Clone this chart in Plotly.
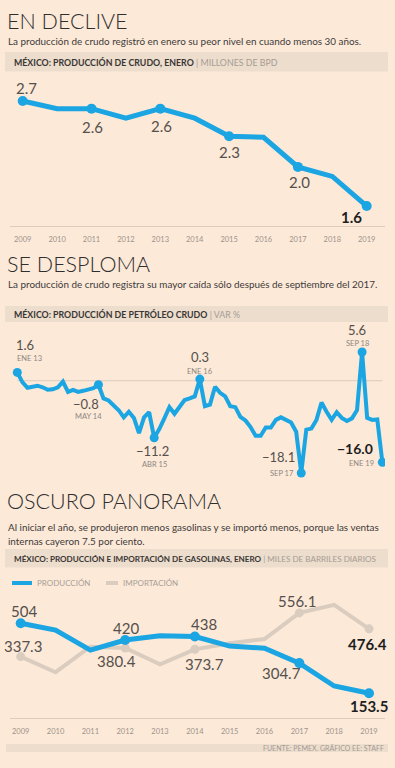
import plotly.graph_objects as go

W, H = 395, 768

# ---------------- DATA ----------------
# Chart 1: crude production, January (millions of bpd)
years1 = list(range(2009, 2020))
crudo_enero = [2.70, 2.62, 2.62, 2.52, 2.62, 2.52, 2.33, 2.32, 2.01, 1.91, 1.60]
crudo_marker_years = [2009, 2011, 2013, 2015, 2017, 2019]
crudo_labels = ["2.7", "2.6", "2.6", "2.3", "2.0", "1.6"]

# Chart 2: crude oil production, annual % change, monthly ENE 13 .. ENE 19
mes_abbr = ["ENE", "FEB", "MAR", "ABR", "MAY", "JUN", "JUL", "AGO", "SEP", "OCT", "NOV", "DIC"]
meses = [f"{mes_abbr[i % 12]} {13 + i // 12}" for i in range(73)]
var_pct = [1.6, -0.3, -1.4, -1.2, -1.0, -1.3, -1.8, -1.7, -1.3, -0.2, -2.2, -1.8, -2.2, -2.0, -1.8, -1.5, -0.8,
           -3.5, -3.9, -4.8, -5.8, -7.2, -6.1, -7.3, -10.3, -7.2, -6.2, -11.2, -9.5, -7.4, -5.2, -6.5, -5.0, -3.8, -3.5, -3.1, 0.3,
           -5.0, -4.7, -1.2, -2.4, -3.1, -5.0, -5.2, -7.1, -7.8, -9.1, -10.8, -10.8, -9.2, -9.2, -7.7, -7.2, -7.8, -8.2, -10.0, -18.1,
           -9.6, -9.4, -7.7, -4.3, -6.1, -7.7, -6.2, -7.3, -7.9, -7.4, -5.8, 5.6, -7.3, -7.7, -7.6, -16.0]
var_marker_meses = ["ENE 13", "MAY 14", "ABR 15", "ENE 16", "SEP 17", "SEP 18", "ENE 19"]
var_value_labels = ["1.6", "−0.8", "−11.2", "0.3", "−18.1", "5.6", "−16.0"]

# Chart 3: gasoline production and imports, January (thousand barrels per day)
years3 = list(range(2009, 2020))
gas_produccion = [504, 470, 370, 420, 442, 438, 390, 379, 304.7, 190, 153.5]
gas_importacion = [337.3, 259, 387, 380.4, 299, 373.7, 404, 425, 556.1, 596, 476.4]
gas_marker_years = [2009, 2012, 2014, 2017, 2019]
gas_prod_labels = ["504", "420", "438", "304.7", "153.5"]
gas_imp_labels = ["337.3", "380.4", "373.7", "556.1", "476.4"]

# ---------------- STYLE ----------------
BG = "#FCE9D8"
BAR = "#EDDDCD"
BLUE = "#1BA5E2"
GRAYLINE = "#DACDBF"
AXIS = "#DDCDBE"
DARK = "#2E2E2E"
NUM = "#55504C"
SMALL = "#8E8680"
FONT = "Lato"


def py(p):
    return 1 - p / H


def px(p):
    return p / W


fig = go.Figure()

# ---- Chart 1 ----
fig.add_trace(go.Scatter(x=years1, y=crudo_enero, mode="lines", line=dict(color=BLUE, width=5),
                         xaxis="x", yaxis="y", showlegend=False, hoverinfo="x+y"))
fig.add_trace(go.Scatter(x=crudo_marker_years,
                         y=[crudo_enero[years1.index(yr)] for yr in crudo_marker_years],
                         mode="markers", marker=dict(color=BLUE, size=10),
                         xaxis="x", yaxis="y", showlegend=False, hoverinfo="skip"))

# ---- Chart 2 ----
midx = list(range(len(var_pct)))
fig.add_trace(go.Scatter(x=midx, y=var_pct, mode="lines", line=dict(color=BLUE, width=4),
                         text=meses, hovertemplate="%{text}: %{y}<extra></extra>",
                         xaxis="x2", yaxis="y2", showlegend=False))
mk_idx = [meses.index(m) for m in var_marker_meses]
fig.add_trace(go.Scatter(x=mk_idx, y=[var_pct[i] for i in mk_idx], mode="markers",
                         marker=dict(color=BLUE, size=9),
                         xaxis="x2", yaxis="y2", showlegend=False, hoverinfo="skip"))

# ---- Chart 3 ----
fig.add_trace(go.Scatter(x=years3, y=gas_importacion, mode="lines", name="IMPORTACIÓN",
                         line=dict(color=GRAYLINE, width=4), xaxis="x3", yaxis="y3", showlegend=False))
fig.add_trace(go.Scatter(x=gas_marker_years, y=[gas_importacion[years3.index(yr)] for yr in gas_marker_years],
                         mode="markers", marker=dict(color=GRAYLINE, size=9),
                         xaxis="x3", yaxis="y3", showlegend=False, hoverinfo="skip"))
fig.add_trace(go.Scatter(x=years3, y=gas_produccion, mode="lines", name="PRODUCCIÓN",
                         line=dict(color=BLUE, width=5), xaxis="x3", yaxis="y3", showlegend=False))
fig.add_trace(go.Scatter(x=gas_marker_years, y=[gas_produccion[years3.index(yr)] for yr in gas_marker_years],
                         mode="markers", marker=dict(color=BLUE, size=10),
                         xaxis="x3", yaxis="y3", showlegend=False, hoverinfo="skip"))

ann = []
shapes = []

# Titles / subtitles / header bars
def header(title, title_y, subs, bar_top, bar_bot, bold_txt, unit_txt, hsize):
    ann.append(dict(text=title, x=px(5), y=py(title_y), xref="paper", yref="paper", xanchor="left",
                    yanchor="middle", showarrow=False, font=dict(family=FONT, size=21.5, color=DARK, weight=300)))
    for t, yy in subs:
        ann.append(dict(text=t, x=px(6), y=py(yy), xref="paper", yref="paper", xanchor="left",
                        yanchor="middle", showarrow=False, font=dict(family=FONT, size=9.9, color="#3C3A38")))
    shapes.append(dict(type="rect", xref="paper", yref="paper", x0=px(5), x1=px(388), y0=py(bar_bot),
                       y1=py(bar_top), fillcolor=BAR, line=dict(width=0), layer="below"))
    ann.append(dict(text=f"<b>{bold_txt}</b> <span style='color:#A59C94'>| {unit_txt}</span>",
                    x=px(12), y=py((bar_top + bar_bot) / 2 + 0.5), xref="paper", yref="paper", xanchor="left",
                    yanchor="middle", showarrow=False, font=dict(family=FONT, size=hsize, color="#3A3634")))


header("EN DECLIVE", 20.5,
       [("La producción de crudo registró en enero su peor nivel en cuando menos 30 años.", 40.5)],
       52, 71.5, "MÉXICO: PRODUCCIÓN DE CRUDO, ENERO", "MILLONES DE BPD", 8.8)
header("SE DESPLOMA", 264,
       [("La producción de crudo registra su mayor caída sólo después de septiembre del 2017.", 283.5)],
       306, 322, "MÉXICO: PRODUCCIÓN DE PETRÓLEO CRUDO", "VAR %", 8.8)
header("OSCURO PANORAMA", 501,
       [("Al iniciar el año, se produjeron menos gasolinas y se importó menos, porque las ventas", 526.7),
        ("internas cayeron 7.5 por ciento.", 541)],
       549, 567.5, "MÉXICO: PRODUCCIÓN E IMPORTACIÓN DE GASOLINAS, ENERO", "MILES DE BARRILES DIARIOS", 8.1)

# Chart 1 value labels
c1_shifts = [(4, 13), (1, -18), (1, -17), (0, -15.5), (1.5, -15.5), (-15, -10.5)]
for yr, lab, (dx, dy) in zip(crudo_marker_years, crudo_labels, c1_shifts):
    bold = yr == crudo_marker_years[-1]
    ann.append(dict(text=f"<b>{lab}</b>" if bold else lab, x=yr, y=crudo_enero[years1.index(yr)],
                    xref="x", yref="y", xshift=dx, yshift=dy, showarrow=False,
                    font=dict(family=FONT, size=15, color="#1E1E1E" if bold else NUM)))

# Chart 2 labels
c2_val_shifts = [(-3.5, 27.5, "left"), (-12, -19, "center"), (-1.5, -13.5, "center"), (0.5, 22.5, "center"),
                 (-23, 16.5, "center"), (-5, 22.5, "center"), (-27, 14, "center")]
c2_date_shifts = [(-2.5, 13.5, "left"), (-10, -32, "center"), (0, -26.5, "center"), (0.5, 7.5, "center"),
                  (-19, 0, "center"), (-4.5, 8.7, "center"), (-20.5, -1, "center")]
for k, i in enumerate(mk_idx):
    dx, dy, xa = c2_val_shifts[k]
    bold = k == len(mk_idx) - 1
    lab = var_value_labels[k]
    ann.append(dict(text=f"<b>{lab}</b>" if bold else lab, x=i, y=var_pct[i], xref="x2", yref="y2",
                    xshift=dx, yshift=dy, xanchor=xa, showarrow=False,
                    font=dict(family=FONT, size=13 if not bold else 14, color="#1E1E1E" if bold else NUM)))
    dx, dy, xa = c2_date_shifts[k]
    ann.append(dict(text=var_marker_meses[k], x=i, y=var_pct[i], xref="x2", yref="y2",
                    xshift=dx, yshift=dy, xanchor=xa, showarrow=False,
                    font=dict(family=FONT, size=7.5, color=SMALL)))

# zero line chart 2
shapes.append(dict(type="line", xref="x2", yref="y2", x0=0, x1=72, y0=0, y1=0,
                   line=dict(color="#E0D1C3", width=1.2), layer="below"))

# Chart 3 labels
prod_shifts = [(3, 12), (1, 12.5), (9, 12), (-18, -10), (0, -12.5)]
imp_shifts = [(2, 10.5), (-8.5, -13.5), (10, -15), (-2.5, 11.5), (-1.5, -15.5)]
for k, yr in enumerate(gas_marker_years):
    bold = yr == gas_marker_years[-1]
    for vals, labs, shifts in ((gas_produccion, gas_prod_labels, prod_shifts),
                               (gas_importacion, gas_imp_labels, imp_shifts)):
        lab = labs[k]
        dx, dy = shifts[k]
        ann.append(dict(text=f"<b>{lab}</b>" if bold else lab, x=yr, y=vals[years3.index(yr)],
                        xref="x3", yref="y3", xshift=dx, yshift=dy, showarrow=False,
                        font=dict(family=FONT, size=15, color="#1E1E1E" if bold else NUM)))

# Chart 3 legend (manual)
shapes.append(dict(type="line", xref="paper", yref="paper", x0=px(12), x1=px(32), y0=py(583), y1=py(583),
                   line=dict(color=BLUE, width=4)))
ann.append(dict(text="PRODUCCIÓN", x=px(35), y=py(583), xref="paper", yref="paper", xanchor="left",
                yanchor="middle", showarrow=False, font=dict(family=FONT, size=8, color="#A89F97")))
shapes.append(dict(type="line", xref="paper", yref="paper", x0=px(106), x1=px(118), y0=py(583), y1=py(583),
                   line=dict(color=GRAYLINE, width=4)))
ann.append(dict(text="IMPORTACIÓN", x=px(121), y=py(583), xref="paper", yref="paper", xanchor="left",
                yanchor="middle", showarrow=False, font=dict(family=FONT, size=8, color="#A89F97")))

# Footer band
shapes.append(dict(type="rect", xref="paper", yref="paper", x0=px(6), x1=px(388), y0=py(752), y1=py(744),
                   fillcolor=BAR, line=dict(width=0), layer="below"))
ann.append(dict(text="FUENTE: PEMEX. GRÁFICO EE: STAFF", x=px(386), y=py(748.2), xref="paper", yref="paper",
                xanchor="right", yanchor="middle", showarrow=False,
                font=dict(family=FONT, size=7, color="#A39A92")))

xdom = [px(10), px(385)]
tickfont = dict(family=FONT, size=7.5, color="#9C938B")

fig.update_layout(
    width=W, height=H, margin=dict(l=0, r=0, t=0, b=0),
    paper_bgcolor=BG, plot_bgcolor="rgba(0,0,0,0)",
    font=dict(family=FONT),
    xaxis=dict(domain=xdom, range=[2008.631, 2019.532], tickmode="array", tickvals=years1,
               showgrid=False, zeroline=False, showline=True, linecolor=AXIS, linewidth=1,
               ticks="", tickfont=tickfont, ticklabelstandoff=6, fixedrange=True),
    yaxis=dict(domain=[py(225.7), py(80)], range=[1.394, 2.92], visible=False, fixedrange=True),
    xaxis2=dict(domain=xdom, range=[-1.44, 72.52], visible=False, anchor="y2", fixedrange=True),
    yaxis2=dict(domain=[py(480), py(322)], range=[-19.47, 11.48], visible=False, anchor="x2", fixedrange=True),
    xaxis3=dict(domain=xdom, range=[2008.693, 2019.459], tickmode="array", tickvals=years3, anchor="y3",
                showgrid=False, zeroline=False, showline=True, linecolor=AXIS, linewidth=1,
                ticks="", tickfont=tickfont, ticklabelstandoff=6, fixedrange=True),
    yaxis3=dict(domain=[py(718.3), py(590)], range=[28.3, 670.7], visible=False, anchor="x3", fixedrange=True),
    annotations=ann, shapes=shapes,
)

fig.write_html("out.html", config={"displayModeBar": False},
               post_script="document.body.style.margin='0';document.body.style.overflow='hidden';"
                           "document.body.style.background='" + BG + "';")
